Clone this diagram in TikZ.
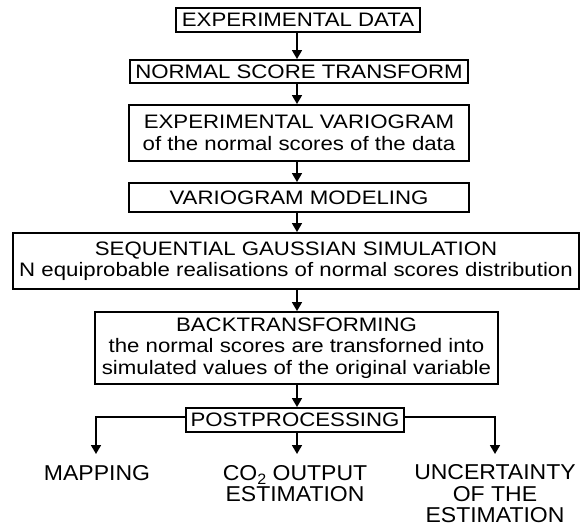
\documentclass[tikz,border=0pt]{standalone}
\usepackage{fontspec}
\setmainfont{Liberation Sans}
\newfontfamily\boxfont[FakeStretch=1.14]{Liberation Sans}
\newfontfamily\lblfont[FakeStretch=1.07]{Liberation Sans}
\usetikzlibrary{arrows.meta}
\begin{document}
\begin{tikzpicture}[x=1pt,y=-1pt,
  box/.style={draw, line width=1.9pt, inner sep=0pt, align=center,
    font=\boxfont\fontsize{19.5}{21.5}\selectfont},
  lbl/.style={inner sep=0pt, align=center, anchor=north,
    font=\lblfont\fontsize{21.5}{21.5}\selectfont},
  arr/.style={line width=1.7pt, -{Triangle[length=9pt,width=10pt]}}]
\useasboundingbox (0,0) rectangle (581,526);
\fill[white] (0,0) rectangle (581,526);
\node[box, minimum width=244pt, minimum height=24pt] (b1) at (298,20) {EXPERIMENTAL DATA};
\node[box, minimum width=338pt, minimum height=23pt] (b2) at (299,71.5) {NORMAL SCORE TRANSFORM};
\node[box, minimum width=340pt, minimum height=56pt] (b3) at (299,133) {EXPERIMENTAL VARIOGRAM\\of the normal scores of the data};
\node[box, minimum width=340pt, minimum height=29pt] (b4) at (299,197.5) {VARIOGRAM MODELING};
\node[box, minimum width=566pt, minimum height=56pt] (b5) at (296,261) {SEQUENTIAL GAUSSIAN SIMULATION\\N equiprobable realisations of normal scores distribution};
\node[box, minimum width=403pt, minimum height=72pt] (b6) at (296.5,348) {BACKTRANSFORMING\\the normal scores are transforned into\\simulated values of the original variable};
\node[box, minimum width=218pt, minimum height=24pt] (post) at (295,420) {POSTPROCESSING};
\node[lbl] (map) at (97,465) {MAPPING};
\node[lbl] (co) at (295,465) {CO\raisebox{-0.22em}{\fontsize{15}{15}\selectfont 2} OUTPUT\\ESTIMATION};
\node[lbl] (unc) at (495,464.5) {UNCERTAINTY\\OF THE\\ESTIMATION};
\draw[arr] (b1.south -| 297,0) -- (b2.north -| 297,0);
\draw[arr] (b2.south -| 297,0) -- (b3.north -| 297,0);
\draw[arr] (b3.south -| 297,0) -- (b4.north -| 297,0);
\draw[arr] (b4.south -| 297,0) -- (b5.north -| 297,0);
\draw[arr] (b5.south -| 297,0) -- (b6.north -| 297,0);
\draw[arr] (b6.south -| 297,0) -- (post.north -| 297,0);
\draw[arr] ([yshift=3pt]post.west) -| ([xshift=-1pt,yshift=11pt]map.north);
\draw[arr] ([yshift=3pt]post.east) -| ([yshift=10.5pt]unc.north);
\draw[arr] (post.south -| 297,0) -- ([yshift=11pt]co.north -| 297,0);
\end{tikzpicture}
\end{document}
